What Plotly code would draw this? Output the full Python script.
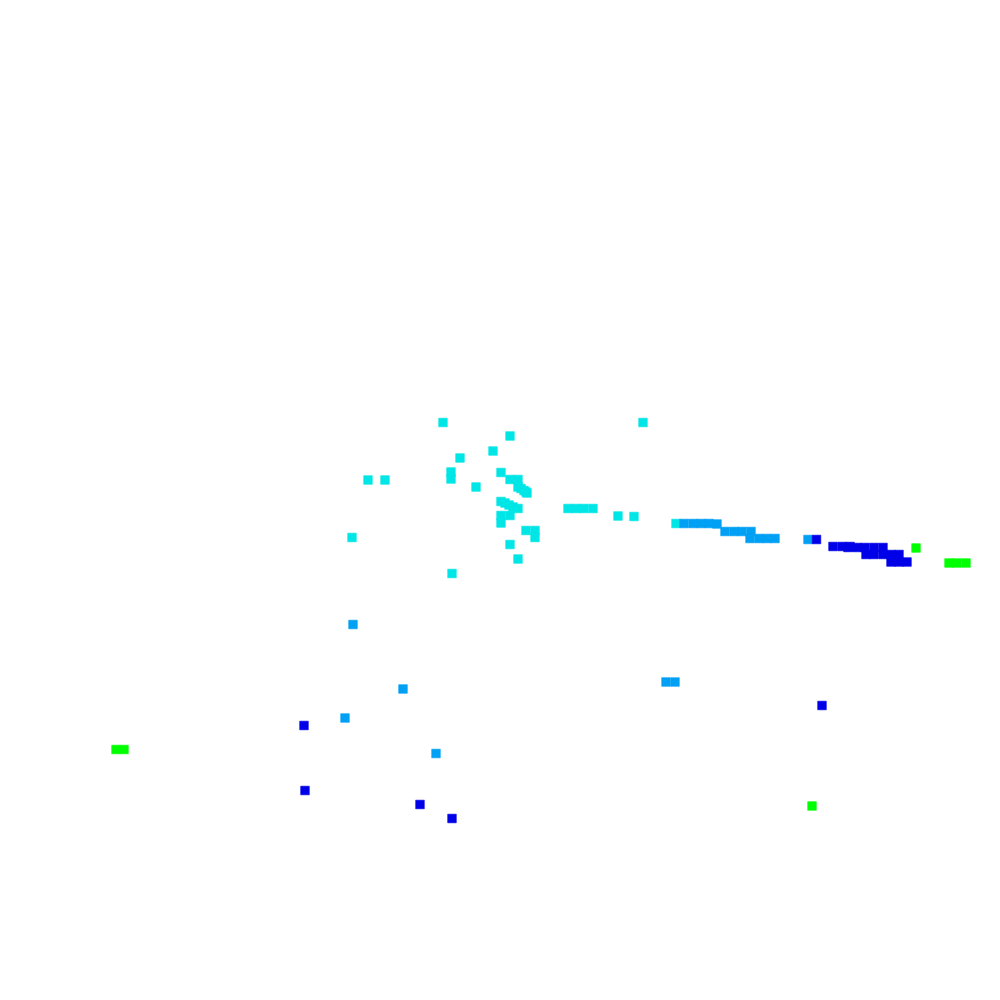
import plotly.graph_objects as go

# Point positions per colour group (data units on a 0-1000 plane, y downward)
cyan_x = [443, 510, 493, 460, 451, 451, 368, 385, 476, 501, 510, 518, 518,
          521, 524, 526, 527,
          501, 505, 509, 513, 518, 501, 510, 501, 526, 535, 535,
          352, 510, 518, 452,
          568, 576, 584, 593, 618, 634, 676, 643]
cyan_y = [422.5, 436, 451, 458, 472, 479, 480, 480, 487, 472.5, 479.5, 479.5, 487,
          488.5, 490.5, 492, 493,
          501.5, 503, 505, 507, 508.5, 515.5, 515.5, 523, 530.5, 530.5, 537.5,
          537.5, 544.5, 559, 573.5,
          508.5, 508.5, 508.5, 508.5, 516, 516.5, 523.5, 422.5]

lblue_x = [684, 693, 701, 709, 717, 725, 734, 742, 751, 750, 759, 767, 775, 808,
           353, 403, 345, 436, 666, 675]
lblue_y = [523.5, 523.5, 523.5, 523.5, 524, 531.5, 531.5, 531.5, 531.5,
           538.5, 538.5, 538.5, 538.5, 539.5,
           624.5, 689, 718, 753.5, 682, 682]

blue_x = [816.5, 833, 842, 850, 848, 857, 865, 874, 883, 866, 874, 883, 891, 899,
          891, 899, 907, 304, 305, 420, 452, 822]
blue_y = [539.5, 546.5, 546.5, 546.5, 547.5, 547.5, 547.5, 547.5, 547.5,
          554.5, 554.5, 554.5, 554.5, 554.5, 562, 562, 562,
          725.5, 790.5, 804.5, 818.5, 705.5]

green_x = [916, 949, 957, 966, 812, 116, 124]
green_y = [548, 563, 563, 563, 806, 749.5, 749.5]

groups = [
    (cyan_x, cyan_y, "rgb(0,229,229)"),
    (lblue_x, lblue_y, "rgb(0,160,245)"),
    (blue_x, blue_y, "rgb(0,0,232)"),
    (green_x, green_y, "rgb(0,255,0)"),
]

fig = go.Figure()
for xs, ys, col in groups:
    fig.add_trace(go.Scatter(
        x=xs, y=ys, mode="markers",
        marker=dict(symbol="square", size=8.6, color=col,
                    line=dict(width=0.6, color=col)),
        hoverinfo="skip", showlegend=False,
    ))

fig.update_layout(
    width=1000, height=1000,
    margin=dict(l=0, r=0, t=0, b=0),
    paper_bgcolor="white", plot_bgcolor="white",
    xaxis=dict(range=[8, 1008], visible=False, fixedrange=True),
    yaxis=dict(range=[1008, 8], visible=False, fixedrange=True),
)

fig.write_html("out.html")
